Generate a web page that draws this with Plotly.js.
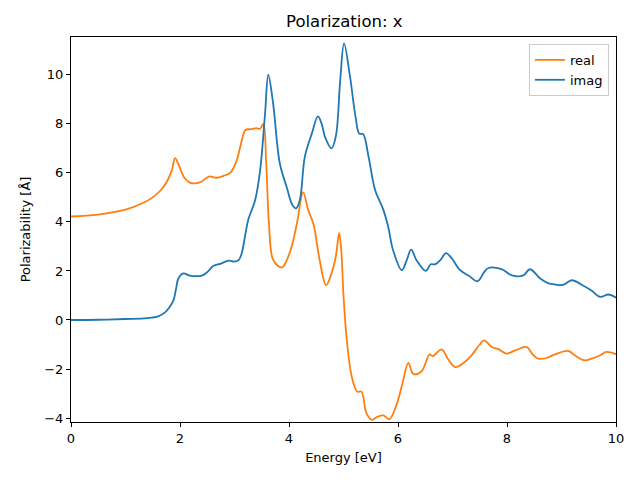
<!DOCTYPE html>
<html><head><meta charset="utf-8">
<script src="https://cdn.plot.ly/plotly-3.0.1.min.js"></script>
<style>html,body{margin:0;padding:0;background:#fff}</style>
</head><body><div id="chart" style="width:640px;height:480px"></div>
<script>
const realX = [0,0.5,1.0,1.3,1.5,1.65,1.76,1.85,1.91,1.98,2.08,2.18,2.28,2.4,2.53,2.67,2.8,2.92,3.04,3.12,3.2,3.3,3.4,3.47,3.53,3.58,3.63,3.7,3.8,3.88,3.95,4.05,4.15,4.26,4.35,4.45,4.55,4.68,4.78,4.86,4.92,4.96,5.0,5.06,5.15,5.25,5.33,5.42,5.52,5.62,5.73,5.84,5.98,6.08,6.19,6.28,6.43,6.58,6.64,6.8,6.92,7.05,7.2,7.35,7.5,7.58,7.72,7.85,7.99,8.15,8.36,8.47,8.57,8.72,8.88,9.12,9.25,9.43,9.55,9.7,9.82,10];
const realY = [4.22,4.3,4.5,4.75,5.0,5.3,5.65,6.1,6.6,6.3,5.8,5.6,5.57,5.65,5.85,5.8,5.88,6.0,6.5,7.2,7.75,7.78,7.82,7.8,8.0,6.5,4.0,2.5,2.2,2.15,2.4,3.0,4.0,5.2,4.5,3.9,2.6,1.42,1.9,2.6,3.55,2.8,1.0,-0.8,-2.3,-2.92,-2.92,-3.8,-4.07,-3.95,-3.89,-4.05,-3.41,-2.6,-1.75,-2.2,-2.1,-1.4,-1.47,-1.2,-1.6,-1.92,-1.75,-1.44,-1.0,-0.83,-1.1,-1.2,-1.37,-1.24,-1.1,-1.4,-1.58,-1.55,-1.4,-1.26,-1.45,-1.65,-1.58,-1.45,-1.3,-1.4];
const imagX = [0,0.5,1.0,1.4,1.6,1.72,1.8,1.88,1.93,1.97,2.06,2.18,2.4,2.5,2.61,2.75,2.89,3.0,3.08,3.13,3.2,3.25,3.38,3.47,3.56,3.62,3.71,3.83,3.96,4.06,4.13,4.2,4.29,4.42,4.53,4.6,4.66,4.78,4.86,4.94,5.01,5.12,5.22,5.29,5.36,5.46,5.58,5.73,5.82,5.91,6.07,6.16,6.24,6.34,6.51,6.6,6.68,6.78,6.88,6.99,7.14,7.3,7.46,7.58,7.66,7.9,8.09,8.3,8.42,8.61,8.75,8.85,9.03,9.19,9.37,9.55,9.71,9.86,10];
const imagY = [0.0,0.01,0.04,0.08,0.15,0.3,0.5,0.8,1.3,1.69,1.9,1.81,1.81,1.95,2.2,2.3,2.42,2.38,2.45,2.7,3.5,4.07,4.9,6.1,8.4,10.0,8.8,6.4,5.4,4.7,4.55,4.9,6.65,7.61,8.3,8.0,7.47,7.0,7.5,9.78,11.28,9.92,8.3,7.6,7.58,6.65,5.3,4.5,3.8,2.84,2.03,2.44,2.87,2.44,2.0,2.27,2.27,2.45,2.73,2.5,2.03,1.8,1.58,1.95,2.12,2.07,1.82,1.82,2.07,1.69,1.5,1.46,1.43,1.62,1.44,1.2,0.94,1.04,0.91];
const xTicks = [0,2,4,6,8,10];
const yTicks = [-4,-2,0,2,4,6,8,10];

const font = {family: "DejaVu Sans", color: "#000"};
const data = [
  {x: realX, y: realY, name: "real", mode: "lines", line: {color: "#ff7f0e", width: 1.8, shape: "spline", smoothing: 1.0}},
  {x: imagX, y: imagY, name: "imag", mode: "lines", line: {color: "#1f77b4", width: 1.8, shape: "spline", smoothing: 1.0}}
];
const axisCommon = {showgrid: false, zeroline: false, showline: true, linecolor: "#000", linewidth: 1, mirror: true,
  ticks: "outside", ticklen: 4, tickwidth: 1, tickcolor: "#000", tickfont: {family: "DejaVu Sans", size: 13, color: "#000"}};
const layout = {
  width: 640, height: 480,
  margin: {l: 71, r: 24, t: 37, b: 58},
  paper_bgcolor: "#fff", plot_bgcolor: "#fff",
  font: font,
  title: {text: "Polarization: x", font: {family: "DejaVu Sans", size: 16.5, color: "#000"}, x: 0.538, xanchor: "center", y: 0.955, yanchor: "middle"},
  xaxis: Object.assign({}, axisCommon, {range: [0, 10], tickvals: xTicks, ticktext: xTicks.map(String),
    title: {text: "Energy [eV]", font: {family: "DejaVu Sans", size: 13, color: "#000"}, standoff: 8}}),
  yaxis: Object.assign({}, axisCommon, {range: [-4.16, 11.54], tickvals: yTicks, ticktext: yTicks.map(v => v < 0 ? "−" + Math.abs(v) : String(v)),
    title: {text: "Polarizability [Å]", font: {family: "DejaVu Sans", size: 13, color: "#000"}, standoff: 10}}),
  legend: {x: 0.987, y: 0.982, xanchor: "right", yanchor: "top", bgcolor: "rgba(255,255,255,0.8)", bordercolor: "#ccc", borderwidth: 1,
    font: {family: "DejaVu Sans", size: 13, color: "#000"}, tracegroupgap: 0},
  showlegend: true
};
Plotly.newPlot("chart", data, layout, {staticPlot: true, displayModeBar: false});
</script>
</body></html>
